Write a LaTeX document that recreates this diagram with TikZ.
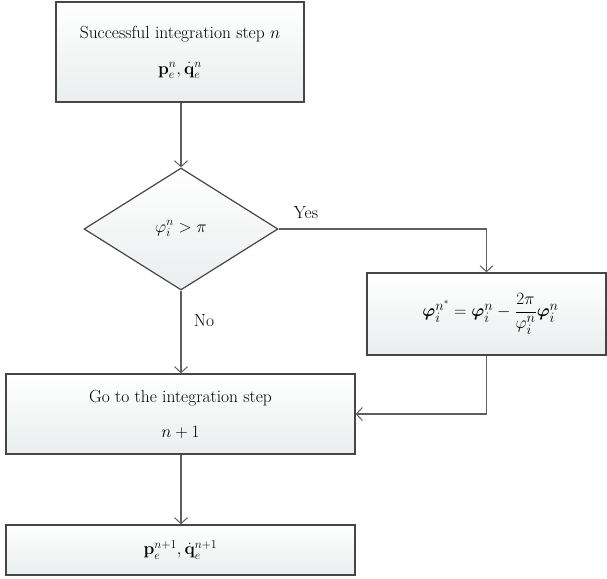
\documentclass[tikz,border=0pt]{standalone}
\usepackage{amsmath,bm}
\usetikzlibrary{shapes.geometric,arrows.meta}
\definecolor{boxbot}{RGB}{234,238,238}
\definecolor{edge}{RGB}{70,70,70}
\definecolor{conn}{RGB}{95,95,95}
\begin{document}
\begin{tikzpicture}[x=1pt,y=-1pt,
  txt/.style={font=\fontsize{17.5}{20}\selectfont},
  flowbox/.style={draw=edge,line width=1.4pt,shade,top color=white,bottom color=boxbot,
    rectangle,inner sep=0pt,align=center,txt},
  decbox/.style={draw=edge,line width=1.2pt,shade,top color=white,bottom color=boxbot,
    diamond,inner sep=0pt,txt},
  conline/.style={draw=conn,line width=1.2pt},
  conarrow/.style={conline,-{Straight Barb[length=6pt,width=13pt,line width=1pt]}}]
\useasboundingbox (0,0) rectangle (607,578);
\node[flowbox,minimum width=248pt,minimum height=100pt] (top) at (180,52)
  {\raisebox{-4pt}{Successful integration step $n$}\\[20pt] $\mathbf{p}_e^n,\dot{\mathbf{q}}_e^n$};
\node[decbox,minimum width=194pt,minimum height=122pt] (dia) at (181,229)
  {\raisebox{5pt}{$\varphi_i^n > \pi$}};
\node[flowbox,minimum width=239pt,minimum height=82pt,font=\fontsize{19}{22}\selectfont] (corr) at (486.5,314)
  {\hspace*{8pt}$\bm{\varphi}_i^{n^*} = \bm{\varphi}_i^{n} - \dfrac{2\pi}{\varphi_i^n}\bm{\varphi}_i^n$};
\node[flowbox,minimum width=349pt,minimum height=80pt] (goto) at (180.5,414)
  {\raisebox{-3pt}{Go to the integration step}\\[18pt] $n+1$};
\node[flowbox,minimum width=349pt,minimum height=50pt] (last) at (180.5,550)
  {$\mathbf{p}_e^{n+1},\dot{\mathbf{q}}_e^{n+1}$};
\node[txt] (yes) at (306,213) {Yes};
\node[txt] (no) at (204,321) {No};
\coordinate (yc) at (corr.north |- dia.east);
\coordinate (rc) at (corr.south |- goto.east);
\draw[conarrow] (top.south -| dia.north) -- (dia.north);
\draw[conarrow] (dia.east) -- (yc) -- (corr.north);
\draw[conarrow] (dia.south) -- (goto.north -| dia.south);
\draw[conarrow] (corr.south) -- (rc) -- (goto.east);
\draw[conarrow] (goto.south -| dia.south) -- (last.north -| dia.south);
\end{tikzpicture}
\end{document}
